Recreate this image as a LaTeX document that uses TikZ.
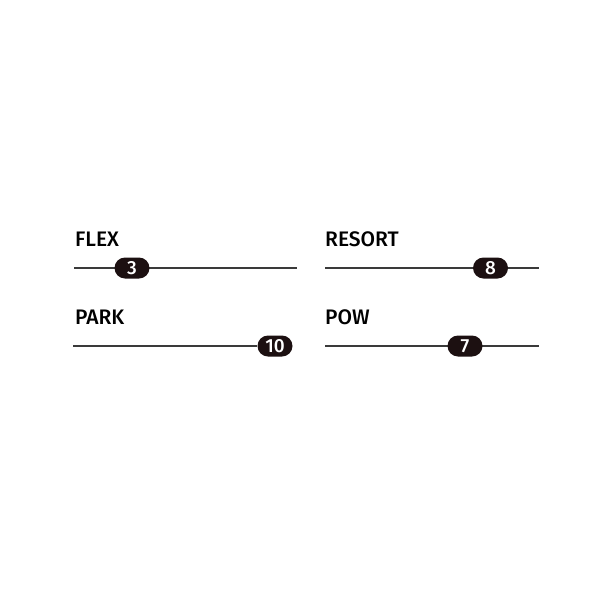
\documentclass[tikz,border=0pt]{standalone}
\usepackage{fontspec}
\setmainfont{Fira Sans}[BoldFont={Fira Sans Medium}]
\usepackage{tikz}

\definecolor{pilldark}{HTML}{1C1011}
\definecolor{railgray}{HTML}{3A3A3A}

\begin{document}
\begin{tikzpicture}[x=1pt, y=-1pt,
        label/.style={anchor=base west, inner sep=0pt, font=\fontsize{21}{21}\selectfont\bfseries, text=black},
        rail/.style={draw=railgray, line width=1.1pt},
        pill/.style={shape=rectangle, rounded corners=10.5pt, fill=pilldark, minimum width=35pt, minimum height=21pt, inner sep=0pt, text=white, font=\fontsize{19}{19}\selectfont\bfseries}]
        \useasboundingbox (0, 0) rectangle (600, 600);
        % flex
        \node[label] (L1) at (75, 246) {FLEX};
        \coordinate (S1) at (74, 268);
        \coordinate (E1) at (297, 268);
        \draw[rail] (S1) to (E1);
        \node[pill] (P1) at (132, 268) {3};
        % resort
        \node[label] (L2) at (325, 246) {RESORT};
        \coordinate (S2) at (325, 268);
        \coordinate (E2) at (539, 268);
        \draw[rail] (S2) to (E2);
        \node[pill] (P2) at (490.5, 268) {8};
        % park
        \node[label] (L3) at (75, 324) {PARK};
        \coordinate (S3) at (73, 346);
        \node[pill] (P3) at (275, 346) {10};
        \draw[rail] (S3) to (P3);
        % pow
        \node[label] (L4) at (325, 324) {POW};
        \coordinate (S4) at (325, 346);
        \coordinate (E4) at (539, 346);
        \draw[rail] (S4) to (E4);
        \node[pill] (P4) at (465, 346) {7};
    \end{tikzpicture}
\end{document}
